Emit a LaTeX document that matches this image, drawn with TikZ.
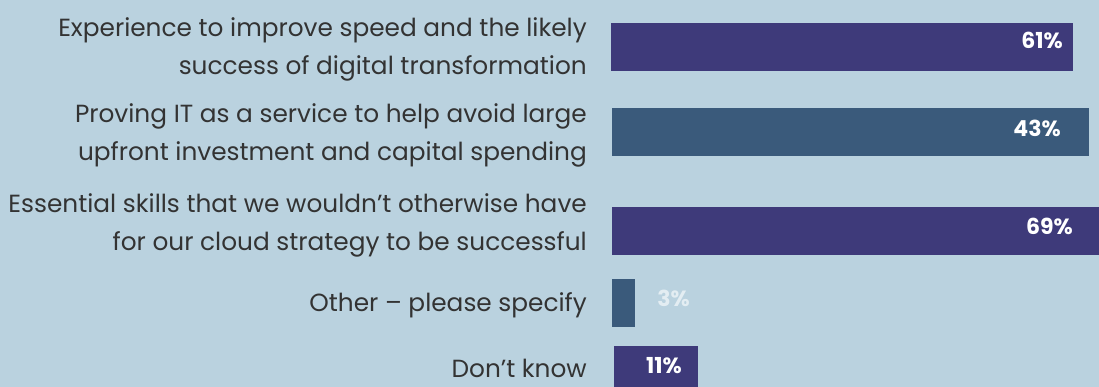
\documentclass[tikz,border=0pt]{standalone}
\usepackage{fontspec}
\setmainfont{Poppins}
\usepackage{tikz}
\definecolor{bgblue}{HTML}{BAD2DF}
\definecolor{barpurple}{HTML}{3E3A7A}
\definecolor{barslate}{HTML}{3A5A7B}
\definecolor{labelgrey}{HTML}{333333}
\tikzset{
	bar/.style={inner sep=0pt, outer sep=0pt, anchor=north west, minimum height=48pt},
	item/.style={anchor=east, align=right, text=labelgrey, inner sep=0pt, font=\fontsize{24.8}{38}\selectfont},
	pct/.style={anchor=mid east, text=white, inner sep=0pt, font=\bfseries\fontsize{22}{24}\selectfont}
}
\begin{document}
\begin{tikzpicture}[x=1pt,y=-1pt]
	\useasboundingbox (0,0) rectangle (1099,387);
	\clip (0,0) rectangle (1099,387);
	\fill[bgblue] (0,0) rectangle (1099,387);
	\node[bar, fill=barpurple, minimum width=462pt] (b1) at (611,23) {};
	\node[bar, fill=barslate, minimum width=477pt] (b2) at (612,108) {};
	\node[bar, fill=barpurple, minimum width=490pt] (b3) at (612,207) {};
	\node[bar, fill=barslate, minimum width=23pt] (b4) at (612,279) {};
	\node[bar, fill=barpurple, minimum width=84pt] (b5) at (614,346) {};
	\node[pct] (p1) at (1063,46) {61\%};
	\node[pct] (p2) at (1061,134) {43\%};
	\node[pct] (p3) at (1073,232) {69\%};
	\node[pct, text opacity=0.6] (p4) at (690,304) {3\%};
	\node[pct] (p5) at (682,371) {11\%};
	\node[item] (l1) at (587,49.5) {Experience to improve speed and the likely\\success of digital transformation};
	\node[item] (l2) at (587,135.5) {Proving IT as a service to help avoid large\\upfront investment and capital spending};
	\node[item] (l3) at (587,225.5) {Essential skills that we wouldn’t otherwise have\\for our cloud strategy to be successful};
	\node[item] (l4) at (587,305) {Other – please specify};
	\node[item] (l5) at (587,368.5) {Don’t know};
\end{tikzpicture}
\end{document}
